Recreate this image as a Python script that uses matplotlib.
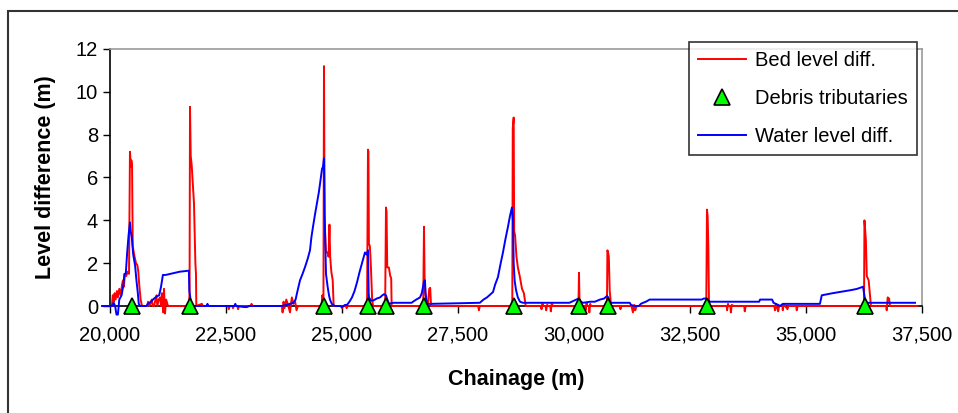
import matplotlib.pyplot as plt
from matplotlib.patches import Rectangle
from matplotlib.ticker import FuncFormatter

plt.rcParams['font.family'] = ['Liberation Sans', 'DejaVu Sans']

# Bed level difference (red)
bed_x = [19830, 20040, 20060, 20080, 20100, 20120, 20150, 20170, 20200, 20230,
         20260, 20280, 20300, 20320, 20350, 20380, 20410, 20430, 20450, 20460,
         20475, 20490, 20520, 20540, 20560, 20590, 20610, 20630, 20660, 20690,
         20800, 20820, 20850, 20900, 20920, 20950, 21000, 21020, 21050, 21080,
         21100, 21120, 21150, 21164, 21185, 21210, 21250, 21700, 21715, 21724,
         21740, 21760, 21790, 21810, 21840, 21853, 21860, 21980, 22000, 22545,
         22560, 22580, 22640, 22650, 22670, 22745, 22760, 22780, 23035, 23050,
         23070, 23705, 23720, 23740, 23760, 23780, 23800, 23830, 23880, 23900,
         23920, 23950, 23990, 24020, 24050, 24560, 24575, 24600, 24612, 24625,
         24640, 24655, 24690, 24710, 24730, 24745, 24770, 24800, 24820, 24985,
         25000, 25020, 25085, 25100, 25120, 25540, 25560, 25570, 25580, 25600,
         25620, 25650, 25670, 25930, 25948, 25960, 25975, 26010, 26040, 26060,
         26070, 26750, 26767, 26780, 26800, 26820, 26850, 26880, 26900, 26920,
         27935, 27950, 27970, 28000, 28670, 28680, 28700, 28710, 28730, 28760,
         28790, 28830, 28880, 28920, 28960, 29285, 29300, 29320, 29340, 29390,
         29400, 29420, 29450, 29490, 29500, 29520, 29550, 30095, 30108, 30120,
         30240, 30250, 30270, 30290, 30320, 30330, 30350, 30360, 30710, 30720,
         30735, 30750, 30770, 30800, 30990, 31000, 31020, 31240, 31250, 31270,
         31300, 31320, 31350, 32850, 32866, 32880, 32895, 32910, 33290, 33300,
         33320, 33330, 33370, 33380, 33400, 33440, 33670, 33680, 33700, 34320,
         34330, 34350, 34400, 34420, 34490, 34500, 34520, 34600, 34620, 34790,
         34800, 34820, 36250, 36260, 36290, 36310, 36350, 36400, 36730, 36740,
         36760, 36790, 36810, 36830, 37400]
bed_y = [0, 0, 0.5, 0.2, 0.6, 0.3, 0.7, 0.4, 0.8, 0.5,
         1.0, 1.2, 0.9, 1.5, 1.4, 1.6, 1.5, 7.2, 6.5, 6.8,
         6.6, 2.8, 2.4, 2.2, 2.0, 1.9, 1.6, 1.0, 0.3, 0,
         0, 0.2, 0, 0.3, 0, 0, 0.5, 0, 0.3, 0.4,
         0, 0.6, -0.3, 0.8, -0.35, 0.3, 0, 0, 0.6, 9.3,
         7.0, 6.6, 5.5, 4.8, 2.0, 1.5, 0, 0.1, 0, 0,
         -0.15, 0, 0, -0.1, 0, 0, -0.15, 0, 0, 0.1,
         0, 0, -0.3, 0.2, -0.1, 0.1, 0.3, 0.1, -0.3, 0.1,
         0.4, 0.1, 0.2, -0.2, 0, 0, 0.5, 0.3, 11.2, 4.0,
         3.2, 2.5, 2.5, 2.3, 3.8, 2.3, 1.6, 1.2, 0, 0,
         -0.1, 0, 0, -0.1, 0, 0, 7.3, 7.2, 2.9, 2.8,
         2.0, 0.3, 0, 0, 4.6, 4.4, 1.8, 1.8, 1.4, 1.3,
         0, 0, 3.7, 1.3, 0.5, 0.2, 0, 0.8, 0.85, 0,
         0, -0.2, 0, 0, 0, 8.3, 8.8, 3.5, 3.3, 2.3,
         1.8, 1.4, 0.8, 0.6, 0, 0, -0.15, 0.1, 0, 0,
         -0.2, 0.05, 0, 0, -0.25, 0.1, 0, 0, 1.55, 0,
         0, -0.2, 0.15, 0, 0, -0.3, 0.1, 0, 0, 2.6,
         2.5, 2.3, 0.7, 0, 0, -0.15, 0, 0, -0.1, -0.3,
         0.05, -0.2, 0, 0, 4.5, 4.2, 2.8, 0, 0, -0.2,
         0.1, 0, 0, -0.3, 0.05, 0, 0, -0.25, 0, 0,
         -0.2, 0.1, -0.25, 0, 0, -0.2, 0.1, -0.15, 0, 0,
         -0.2, 0, 0, 4.0, 3.1, 1.4, 1.2, 0, 0, -0.2,
         0.4, 0.35, 0, 0, 0]

# Water level difference (blue)
water_x = [19830, 20040, 20080, 20110, 20140, 20170, 20200, 20250, 20290, 20310,
           20340, 20370, 20400, 20430, 20445, 20470, 20500, 20540, 20570, 20600,
           20620, 20650, 20780, 20820, 20880, 20950, 21010, 21060, 21100, 21140,
           21200, 21300, 21400, 21500, 21700, 21710, 21730, 21760, 22080, 22100,
           22120, 22680, 22700, 22720, 22900, 22950, 23000, 23700, 23800, 23880,
           23950, 24000, 24030, 24095, 24150, 24200, 24260, 24310, 24340, 24375,
           24420, 24461, 24500, 24526, 24569, 24590, 24612, 24625, 24640, 24655,
           24690, 24720, 24741, 24780, 24806, 24850, 24960, 25000, 25064, 25107,
           25160, 25215, 25270, 25323, 25380, 25431, 25470, 25495, 25530, 25560,
           25575, 25582, 25625, 25668, 25750, 25819, 25870, 25905, 25948, 25969,
           26012, 26100, 26500, 26530, 26600, 26681, 26720, 26745, 26767, 26788,
           26800, 26830, 26900, 27970, 28050, 28124, 28200, 28254, 28300, 28361,
           28420, 28469, 28520, 28577, 28620, 28663, 28685, 28700, 28720, 28750,
           28790, 28836, 28900, 29900, 29950, 30050, 30100, 30150, 30194, 30350,
           30450, 30560, 30650, 30711, 30740, 30776, 31200, 31230, 31300, 31400,
           31440, 31490, 31550, 31630, 32750, 32800, 32850, 32930, 33990, 34010,
           34270, 34300, 34400, 34440, 34500, 35300, 35340, 35580, 35990, 36100,
           36230, 36250, 36280, 36300, 37350]
water_y = [0, 0, 0.15, 0, -0.4, -0.4, 0.3, 0.5, 1.0, 1.5,
           1.5, 2.5, 3.3, 3.9, 3.5, 3.2, 2.4, 1.9, 1.2, 0.6,
           0.1, 0, 0, 0.1, 0.2, 0.35, 0.45, 0.5, 0.9, 1.45,
           1.45, 1.5, 1.55, 1.6, 1.65, 0.7, 0.4, 0, 0, 0.1,
           0, 0, 0.1, 0, -0.05, -0.05, 0, 0, 0.05, 0.1,
           0.15, 0.3, 0.6, 1.2, 1.5, 1.8, 2.2, 2.6, 3.2, 3.7,
           4.3, 4.8, 5.3, 5.7, 6.4, 6.5, 6.9, 4.3, 2.8, 1.5,
           0.9, 0.5, 0.3, 0.1, 0.05, 0, 0, -0.05, 0.05, 0.05,
           0.2, 0.4, 0.7, 1.1, 1.6, 2.0, 2.3, 2.5, 2.4, 2.6,
           0.6, 0.4, 0.25, 0.25, 0.35, 0.4, 0.5, 0.55, 0.5, 0.35,
           0.1, 0.15, 0.15, 0.2, 0.3, 0.4, 0.6, 0.9, 1.15, 1.2,
           0.6, 0.1, 0.1, 0.15, 0.3, 0.4, 0.55, 0.65, 1.0, 1.35,
           2.0, 2.5, 3.1, 3.7, 4.2, 4.6, 4.0, 2.0, 1.2, 0.75,
           0.4, 0.2, 0.15, 0.15, 0.2, 0.3, 0.35, 0.2, 0.15, 0.2,
           0.2, 0.3, 0.35, 0.47, 0.4, 0.15, 0.15, 0.05, 0, 0,
           0.1, 0.15, 0.2, 0.3, 0.3, 0.35, 0.35, 0.2, 0.2, 0.3,
           0.3, 0.15, 0.05, 0, 0.1, 0.1, 0.5, 0.6, 0.75, 0.8,
           0.9, 0.6, 0.2, 0.15, 0.15]

# Debris tributaries (triangles at zero)
trib_x = [20474, 21724, 24612, 25560, 25948, 26767, 28707, 30108, 30733, 32866, 36272]
trib_y = [0] * len(trib_x)

fig = plt.figure(figsize=(9.58, 4.13), dpi=100)
ax = fig.add_axes([110 / 958, 107 / 413, 812 / 958, 257 / 413])

bed, = ax.plot(bed_x, bed_y, color='#ff0000', lw=1.4, clip_on=False, zorder=3,
               label='Bed level diff.')
water, = ax.plot(water_x, water_y, color='#0000ff', lw=1.4, clip_on=False, zorder=4,
                 label='Water level diff.')
trib, = ax.plot(trib_x, trib_y, ls='none', marker='^', ms=11, mfc='#00ff00',
                mec='black', mew=1.2, clip_on=False, zorder=5,
                label='Debris tributaries')

ax.set_xlim(20000, 37500)
ax.set_ylim(0, 12)
ax.set_xticks(range(20000, 37501, 2500))
ax.set_yticks(range(0, 13, 2))
ax.xaxis.set_major_formatter(FuncFormatter(lambda v, p: f'{int(v):,}'))
ax.tick_params(direction='out', length=5, width=1, labelsize=14.5, color='black')
ax.tick_params(axis='x', pad=9)

for s in ['top', 'right']:
    ax.spines[s].set_color('#999999')
    ax.spines[s].set_linewidth(1.2)
for s in ['left', 'bottom']:
    ax.spines[s].set_color('black')
    ax.spines[s].set_linewidth(1.2)

ax.set_xlabel('Chainage (m)', fontsize=15.5, fontweight='bold', labelpad=18)
ax.set_ylabel('Level difference (m)', fontsize=15.5, fontweight='bold', labelpad=14)

leg = ax.legend(handles=[bed, trib, water], loc='upper right',
                bbox_to_anchor=(917 / 958, 371 / 413), bbox_transform=fig.transFigure,
                fontsize=14.5, frameon=True, fancybox=False, handlelength=2.4,
                borderpad=0.45, labelspacing=0.95, handletextpad=0.45,
                borderaxespad=0)
leg.get_frame().set_edgecolor('black')
leg.get_frame().set_linewidth(1.2)
leg.set_zorder(10)

# chart area frame
fig.patches.append(Rectangle((8 / 958, -0.1), 1.0, 1.1 - 11 / 413,
                             transform=fig.transFigure, fill=False,
                             edgecolor='#333333', lw=1.5))

fig.savefig('out.png', dpi=100)
